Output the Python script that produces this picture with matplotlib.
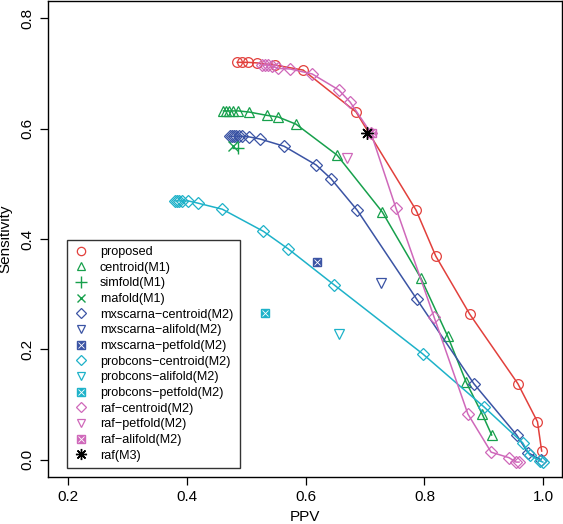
import numpy as np
import matplotlib
matplotlib.use('Agg')
import matplotlib.pyplot as plt
from matplotlib.lines import Line2D

# data (PPV, Sensitivity)
prop_x = [0.485, 0.493, 0.503, 0.518, 0.549, 0.596, 0.685, 0.786, 0.819, 0.876, 0.957, 0.990, 0.997]
prop_y = [0.720, 0.720, 0.720, 0.719, 0.715, 0.706, 0.630, 0.452, 0.369, 0.264, 0.138, 0.069, 0.016]

cent_x = [0.462, 0.467, 0.471, 0.478, 0.487, 0.505, 0.535, 0.554, 0.584, 0.653, 0.729, 0.794, 0.839, 0.870, 0.897, 0.913]
cent_y = [0.632, 0.632, 0.632, 0.632, 0.632, 0.630, 0.624, 0.621, 0.608, 0.552, 0.449, 0.329, 0.224, 0.141, 0.083, 0.045]

simfold = (0.487, 0.565)
rnafold = (0.478, 0.568)

mxc_x = [0.473, 0.476, 0.480, 0.483, 0.488, 0.493, 0.505, 0.524, 0.564, 0.618, 0.643, 0.687, 0.787, 0.883, 0.955, 0.974, 0.996]
mxc_y = [0.586, 0.586, 0.586, 0.586, 0.586, 0.586, 0.585, 0.581, 0.568, 0.534, 0.509, 0.452, 0.291, 0.138, 0.045, 0.013, 0.000]
mx_alifold = (0.727, 0.320)
mx_petfold = (0.619, 0.359)

pcc_x = [0.381, 0.384, 0.388, 0.392, 0.403, 0.419, 0.460, 0.529, 0.571, 0.648, 0.797, 0.900, 0.965, 0.977, 0.994, 0.999]
pcc_y = [0.469, 0.469, 0.469, 0.469, 0.469, 0.465, 0.454, 0.414, 0.382, 0.317, 0.192, 0.096, 0.031, 0.009, -0.002, -0.004]
pc_alifold = (0.657, 0.228)
pc_petfold = (0.532, 0.266)

rafc_x = [0.527, 0.532, 0.537, 0.544, 0.554, 0.574, 0.611, 0.656, 0.675, 0.710, 0.752, 0.816, 0.873, 0.912, 0.942, 0.954, 0.959]
rafc_y = [0.715, 0.715, 0.715, 0.713, 0.709, 0.708, 0.699, 0.670, 0.648, 0.592, 0.456, 0.259, 0.083, 0.014, 0.004, -0.004, -0.004]
raf_petfold = (0.670, 0.547)
raf_alifold = (0.712, 0.592)
raf_m3 = (0.703, 0.592)

c_red = '#E2403C'
c_green = '#17A04C'
c_blue = '#3B54A4'
c_cyan = '#1EB2C9'
c_mag = '#CF68BA'

plt.rcParams['font.family'] = ['Liberation Sans', 'DejaVu Sans']

fig = plt.figure(figsize=(5.63, 5.24), dpi=100)
ax = fig.add_axes([0.0853, 0.0897, 0.9127, 0.9083])

ms = 7
mk = dict(mfc='none', ms=ms, mew=0.9, lw=1.1)

ax.plot(prop_x, prop_y, marker='o', color=c_red, **mk)
ax.plot(cent_x, cent_y, marker='^', color=c_green, **mk)
ax.plot(mxc_x, mxc_y, marker='D', color=c_blue, mfc='none', ms=6, mew=0.9, lw=1.1)
ax.plot(pcc_x, pcc_y, marker='D', color=c_cyan, mfc='none', ms=6, mew=0.9, lw=1.1)
ax.plot(rafc_x, rafc_y, marker='D', color=c_mag, mfc='none', ms=6, mew=0.9, lw=1.1)

ax.plot(*simfold, marker='+', color=c_green, ms=9, mew=1, ls='none')
ax.plot(*rnafold, marker='x', color=c_green, ms=7, mew=1, ls='none')
ax.plot(*mx_alifold, marker='v', color=c_blue, mfc='none', ms=ms, mew=0.9, ls='none')
ax.plot(*pc_alifold, marker='v', color=c_cyan, mfc='none', ms=ms, mew=0.9, ls='none')
ax.plot(*raf_petfold, marker='v', color=c_mag, mfc='none', ms=ms, mew=0.9, ls='none')


def boxx(x, y, col):
    ax.plot(x, y, marker='s', color=col, ms=6, ls='none')
    ax.plot(x, y, marker='x', color='white', ms=4, mew=0.6, ls='none')


boxx(*mx_petfold, c_blue)
boxx(*pc_petfold, c_cyan)
boxx(*raf_alifold, c_mag)
ax.plot(*raf_m3, marker=(8, 2, 0), color='black', ms=9, mew=1, ls='none')

ax.set_xlim(0.167, 1.031)
ax.set_ylim(-0.031, 0.831)
ax.set_xticks([0.2, 0.4, 0.6, 0.8, 1.0])
ax.set_yticks([0.0, 0.2, 0.4, 0.6, 0.8])
ax.set_xticklabels(['0.2', '0.4', '0.6', '0.8', '1.0'])
ax.set_yticklabels(['0.0', '0.2', '0.4', '0.6', '0.8'], rotation=90, va='center')
ax.tick_params(direction='out', length=6, labelsize=11, width=0.9)
ax.set_xlabel('PPV', fontsize=11, labelpad=4)
ax.set_ylabel('Sensitivity', fontsize=11, labelpad=6)
for s in ax.spines.values():
    s.set_linewidth(1.0)


def h(marker, col, **kw):
    return Line2D([], [], marker=marker, color=col, ls='none', **kw)


def hb(col):
    return (h('s', col, ms=6), h('x', 'white', ms=4, mew=0.6))


handles = [
    h('o', c_red, mfc='none', ms=6, mew=0.9),
    h('^', c_green, mfc='none', ms=6, mew=0.9),
    h('+', c_green, ms=8, mew=1),
    h('x', c_green, ms=6, mew=1),
    h('D', c_blue, mfc='none', ms=5, mew=0.9),
    h('v', c_blue, mfc='none', ms=6, mew=0.9),
    hb(c_blue),
    h('D', c_cyan, mfc='none', ms=5, mew=0.9),
    h('v', c_cyan, mfc='none', ms=6, mew=0.9),
    hb(c_cyan),
    h('D', c_mag, mfc='none', ms=5, mew=0.9),
    h('v', c_mag, mfc='none', ms=6, mew=0.9),
    hb(c_mag),
    h((8, 2, 0), 'black', ms=8, mew=1),
]
labels = ['proposed', 'centroid(M1)', 'simfold(M1)', 'rnafold(M1)',
          'mxscarna\u2212centroid(M2)', 'mxscarna\u2212alifold(M2)', 'mxscarna\u2212petfold(M2)',
          'probcons\u2212centroid(M2)', 'probcons\u2212alifold(M2)', 'probcons\u2212petfold(M2)',
          'raf\u2212centroid(M2)', 'raf\u2212petfold(M2)', 'raf\u2212alifold(M2)', 'raf(M3)']

leg = ax.legend(handles, labels, loc='lower left', bbox_to_anchor=(0.037, 0.019),
                borderaxespad=0, fontsize=9.1, frameon=True, fancybox=False,
                edgecolor='black', handlelength=1.2, handletextpad=0.9,
                labelspacing=0.29, borderpad=0.5)
leg.get_frame().set_linewidth(1.0)

fig.savefig('out.png', dpi=100)
